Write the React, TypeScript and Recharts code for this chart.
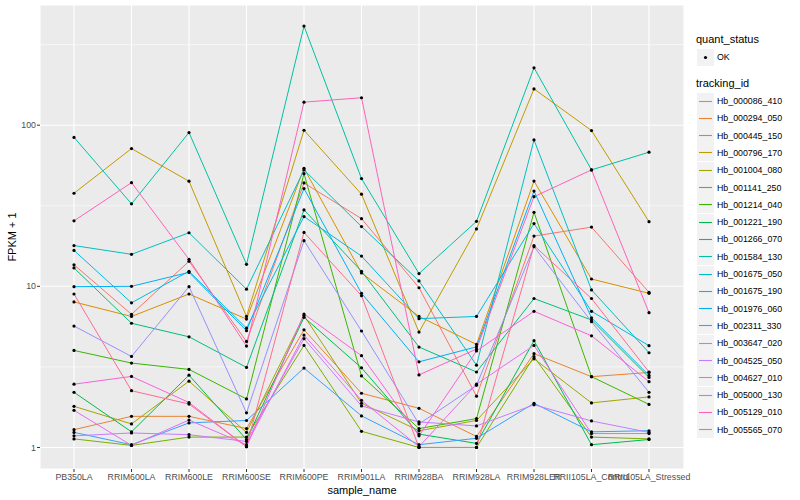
import React from 'react';
import { LineChart, Line, XAxis, YAxis, CartesianGrid } from 'recharts';

// samples on the x axis
const sampleNames = [
  'PB350LA', 'RRIM600LA', 'RRIM600LE', 'RRIM600SE', 'RRIM600PE', 'RRIM901LA',
  'RRIM928BA', 'RRIM928LA', 'RRIM928LER', 'RRII105LA_Control', 'RRII105LA_Stressed',
];

// FPKM + 1 per tracking id (one value per sample)
const hb000086_410 = [13.6, 6.7, 14.3, 4.55, 43.8, 26.3, 9.8, 2.08, 20.5, 23.3, 9.18];
const hb000294_050 = [1.29, 1.56, 1.56, 1.31, 5.37, 2.17, 1.75, 1.17, 3.82, 2.75, 2.92];
const hb000445_150 = [8.0, 6.5, 8.96, 6.26, 54, 12.1, 6.5, 4.36, 45, 11.1, 9.05];
const hb000796_170 = [37.8, 71.6, 44.9, 6.5, 93, 37.3, 5.2, 22.7, 168, 92.6, 25.2];
const hb001004_080 = [1.8, 1.4, 2.58, 1.24, 6.58, 1.88, 1.27, 1.47, 3.55, 1.89, 2.06];
const hb001141_250 = [1.13, 1.03, 1.16, 1.16, 4.3, 1.26, 1.0, 1.0, 3.66, 1.16, 1.13];
const hb001214_040 = [4.0, 3.34, 3.05, 2.0, 50, 2.78, 1.31, 1.51, 28.8, 2.75, 1.85];
const hb001221_190 = [2.2, 1.25, 2.81, 1.12, 6.42, 3.12, 1.21, 1.06, 4.6, 1.04, 1.12];
const hb001266_070 = [13.0, 5.9, 4.86, 3.14, 29.8, 12.4, 4.2, 2.94, 8.4, 6.18, 2.72];
const hb001584_130 = [84, 32.5, 90, 13.7, 412, 46.6, 12.0, 25.3, 227, 52.8, 68];
const hb001675_050 = [17.9, 15.8, 21.5, 9.6, 52.8, 23.5, 10.8, 3.24, 81, 9.5, 3.87];
const hb001675_190 = [16.7, 7.9, 12.4, 5.5, 27.1, 15.4, 6.3, 6.5, 24.5, 7.0, 4.28];
const hb001976_060 = [9.95, 10.0, 12.2, 5.3, 40.4, 9.05, 3.4, 4.21, 39, 6.38, 2.8];
const hb002311_330 = [1.24, 1.04, 1.42, 1.47, 3.11, 1.57, 1.04, 1.14, 1.88, 1.25, 1.27];
const hb003647_020 = [5.67, 3.67, 9.95, 1.64, 19.2, 5.28, 1.4, 2.43, 17.6, 6.03, 2.2];
const hb004525_050 = [1.18, 1.23, 1.2, 1.09, 4.73, 1.81, 1.44, 1.36, 1.84, 1.46, 1.24];
const hb004627_010 = [1.7, 1.03, 1.48, 1.04, 4.98, 1.96, 1.01, 2.47, 4.3, 1.22, 1.22];
const hb005000_130 = [2.47, 2.76, 1.9, 1.01, 6.73, 3.71, 1.18, 3.97, 7.0, 4.93, 2.56];
const hb005129_010 = [25.5, 44, 14.7, 4.26, 139, 148, 2.82, 4.08, 36, 52.8, 6.86];
const hb005565_070 = [8.96, 2.25, 1.86, 1.01, 21.6, 8.74, 1.0, 1.0, 17.9, 8.4, 2.94];

const trackingIds = [
  'Hb_000086_410', 'Hb_000294_050', 'Hb_000445_150', 'Hb_000796_170', 'Hb_001004_080',
  'Hb_001141_250', 'Hb_001214_040', 'Hb_001221_190', 'Hb_001266_070', 'Hb_001584_130',
  'Hb_001675_050', 'Hb_001675_190', 'Hb_001976_060', 'Hb_002311_330', 'Hb_003647_020',
  'Hb_004525_050', 'Hb_004627_010', 'Hb_005000_130', 'Hb_005129_010', 'Hb_005565_070',
];
const seriesValues = [
  hb000086_410, hb000294_050, hb000445_150, hb000796_170, hb001004_080,
  hb001141_250, hb001214_040, hb001221_190, hb001266_070, hb001584_130,
  hb001675_050, hb001675_190, hb001976_060, hb002311_330, hb003647_020,
  hb004525_050, hb004627_010, hb005000_130, hb005129_010, hb005565_070,
];
// ggplot2 default hue palette, 20 levels
const colors = [
  '#F8766D', '#EA8331', '#D89000', '#C09B00', '#A3A500', '#7CAE00', '#39B600', '#00BB4E', '#00BF7D', '#00C1A3',
  '#00BFC4', '#00BAE0', '#00B0F6', '#35A2FF', '#9590FF', '#C77CFF', '#E76BF3', '#FA62DB', '#FF62BC', '#FF6C91',
];

const yTicks = [1, 10, 100];
const yMinor = [3.1623, 31.623, 316.23];

const font = '"Liberation Sans", Arial, Helvetica, sans-serif';

export default function App() {
  const data = sampleNames.map((name, i) => {
    const row: Record<string, any> = { sample_name: name };
    trackingIds.forEach((id, j) => {
      row[id] = seriesValues[j][i];
    });
    return row;
  });

  return (
    <div style={{ position: 'absolute', left: 0, top: 0, width: 800, height: 500, background: '#fff', fontFamily: font }}>
      <LineChart width={800} height={500} data={data} margin={{ top: 5, right: 116, bottom: 0, left: 0 }}>
        <CartesianGrid fill="#EBEBEB" stroke="#FFFFFF" strokeWidth={0.55} vertical={false} horizontalValues={yMinor} />
        <CartesianGrid stroke="#FFFFFF" strokeWidth={1.1} />
        <XAxis
          dataKey="sample_name"
          interval={0}
          height={31}
          padding={{ left: 34, right: 35 }}
          axisLine={false}
          tickSize={3}
          tickMargin={2}
          tickLine={{ stroke: '#333333' }}
          tick={{ fontSize: 8.8, fill: '#4D4D4D', fontFamily: font }}
        />
        <YAxis
          width={40}
          scale="log"
          domain={[0.735, 557]}
          allowDataOverflow
          ticks={yTicks}
          axisLine={false}
          tickSize={3}
          tickMargin={1}
          tickLine={{ stroke: '#333333' }}
          tick={{ fontSize: 8.8, fill: '#4D4D4D', fontFamily: font }}
        />
        {trackingIds.map((id, j) => (
          <Line
            key={id}
            type="linear"
            dataKey={id}
            stroke={colors[j]}
            strokeWidth={1}
            dot={{ r: 1.6, fill: '#000', stroke: 'none' }}
            activeDot={false}
            isAnimationActive={false}
          />
        ))}
      </LineChart>

      {/* axis titles */}
      <div style={{ position: 'absolute', left: 362, top: 484, transform: 'translateX(-50%)', fontSize: 11, whiteSpace: 'nowrap' }}>
        sample_name
      </div>
      <div style={{ position: 'absolute', left: 12, top: 237, transform: 'translate(-50%, -50%) rotate(-90deg)', fontSize: 11, whiteSpace: 'nowrap' }}>
        FPKM + 1
      </div>

      {/* legend */}
      <div style={{ position: 'absolute', left: 696, top: 33, fontSize: 11 }}>quant_status</div>
      <svg style={{ position: 'absolute', left: 697, top: 49 }} width={17} height={17}>
        <rect width={17} height={17} fill="#F2F2F2" />
        <circle cx={8.5} cy={8.5} r={1.6} fill="#000" />
      </svg>
      <div style={{ position: 'absolute', left: 717, top: 52, fontSize: 8.8 }}>OK</div>

      <div style={{ position: 'absolute', left: 696, top: 77, fontSize: 11 }}>tracking_id</div>
      {trackingIds.map((id, j) => (
        <React.Fragment key={id}>
          <svg style={{ position: 'absolute', left: 697, top: 92.5 + j * 17.3 }} width={17} height={17}>
            <rect width={17} height={17} fill="#F2F2F2" />
            <line x1={2} x2={15} y1={8.5} y2={8.5} stroke={colors[j]} strokeWidth={1.1} />
          </svg>
          <div style={{ position: 'absolute', left: 717, top: 96 + j * 17.3, fontSize: 8.8, whiteSpace: 'nowrap' }}>{id}</div>
        </React.Fragment>
      ))}
    </div>
  );
}
